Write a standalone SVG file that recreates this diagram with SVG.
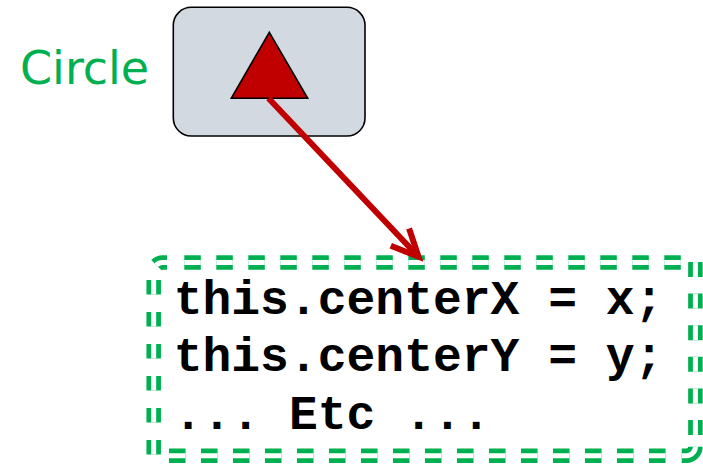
<svg xmlns="http://www.w3.org/2000/svg" width="703" height="465" viewBox="0 0 703 465">
  <style>
    .label { font-family: "DejaVu Sans", Verdana, sans-serif; fill: #00B050; }
    .code { font-family: "Liberation Mono", "Courier New", monospace; font-weight: bold; font-size: 48px; fill: #000000; }
    .frame-outer { fill: none; stroke: #00B050; stroke-width: 14.5; }
    .frame-inner { fill: none; stroke: #FFFFFF; stroke-width: 5; }
    .conn { fill: none; stroke: #C00000; stroke-width: 6; }
  </style>
  <defs>
    <marker id="open-arrow" markerUnits="userSpaceOnUse" orient="auto" refX="0" refY="0" markerWidth="40" markerHeight="40" viewBox="-35 -20 40 40" overflow="visible">
      <path d="M-27 -12.6 L0 0 L-27 12.6" fill="none" stroke="#C00000" stroke-width="6" stroke-linejoin="miter" stroke-miterlimit="10"/>
    </marker>
  </defs>
  <rect width="703" height="465" fill="#FFFFFF"/>

  <!-- shape node with its name -->
  <g id="circle-node">
    <text class="label" x="20" y="84" font-size="46">Circle</text>
    <rect x="173.3" y="7.3" width="191.7" height="128.7" rx="18" ry="18" fill="#D3D9E1" stroke="#000000" stroke-width="1.6"/>
    <polygon points="269.3,32.3 231.3,98.3 307.7,98.3" fill="#C00000" stroke="#000000" stroke-width="1.6" stroke-linejoin="miter"/>
  </g>

  <!-- constructor body in a double dashed frame -->
  <g id="code-node">
    <g id="frame">
      <!-- top edge -->
      <path class="frame-outer" d="M184.3 262.5 H681" stroke-dasharray="16.5 15.5"/>
      <path class="frame-inner" d="M184.3 262.5 H681" stroke-dasharray="16.5 15.5"/>
      <!-- right edge -->
      <path class="frame-outer" d="M695.4 262 V436" stroke-dasharray="15 16.6"/>
      <path class="frame-inner" d="M695.4 262 V436" stroke-dasharray="15 16.6"/>
      <!-- bottom edge -->
      <path class="frame-outer" d="M169 455.7 H666" stroke-dasharray="16.5 15.5"/>
      <path class="frame-inner" d="M169 455.7 H666" stroke-dasharray="16.5 15.5"/>
      <!-- left edge -->
      <path class="frame-outer" d="M153.7 280 V454.5" stroke-dasharray="14.5 17.5"/>
      <path class="frame-inner" d="M153.7 280 V454.5" stroke-dasharray="14.5 17.5"/>
      <!-- rounded corner pieces -->
      <path class="frame-outer" d="M167 262.5 H162.7 A9 9 0 0 0 156.3 265.1"/>
      <path class="frame-inner" d="M167 262.5 H162.7 A9 9 0 0 0 156.3 265.1"/>
      <path class="frame-outer" d="M681.7 455.7 H686.4 A9 9 0 0 0 695.4 446.7"/>
      <path class="frame-inner" d="M681.7 455.7 H686.4 A9 9 0 0 0 695.4 446.7"/>
    </g>
    <text class="code" x="173.7" y="313.5" xml:space="preserve">this.centerX = x;</text>
    <text class="code" x="173.7" y="370.5" xml:space="preserve">this.centerY = y;</text>
    <text class="code" x="173.7" y="428.5" xml:space="preserve">... Etc ...</text>
  </g>

  <!-- connector -->
  <g id="connectors">
    <path class="conn" d="M268.5 98.3 L418.5 256.7" marker-end="url(#open-arrow)"/>
  </g>
</svg>
